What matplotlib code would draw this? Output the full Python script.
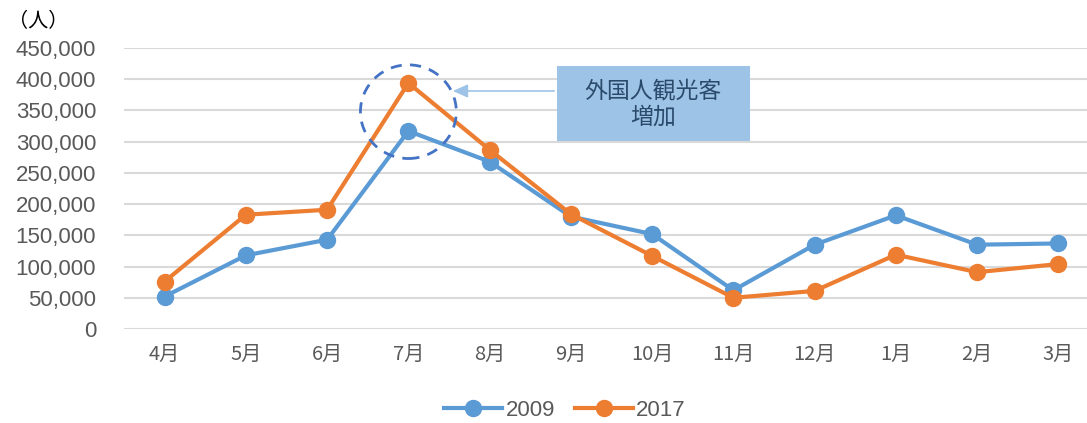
import matplotlib.pyplot as plt
from matplotlib.patches import Ellipse, Rectangle
from matplotlib.ticker import FuncFormatter

plt.rcParams['font.family'] = ['Noto Sans CJK JP', 'DejaVu Sans']

months = ['4月', '5月', '6月', '7月', '8月', '9月', '10月', '11月', '12月', '1月', '2月', '3月']
visitors_2009 = [52000, 118000, 143000, 317000, 268000, 180000, 152000, 62000, 135000, 182000, 135000, 137000]
visitors_2017 = [76000, 183000, 191000, 394000, 287000, 184000, 117000, 50000, 61000, 119000, 91000, 104000]
callout_text = '外国人観光客\n増加'

blue = '#5B9BD5'
orange = '#ED7D31'
grey = '#595959'

W, H = 1087, 423
fig = plt.figure(figsize=(W / 100, H / 100), dpi=100)
# axes placed in pixel terms: x from 124 to 1099, y (0) at 329, (450k) at 48
ax = fig.add_axes([124 / W, (H - 329) / H, (1099 - 124) / W, (329 - 48) / H])

x = list(range(len(months)))
ax.plot(x, visitors_2009, color=blue, lw=3, marker='o', ms=11.5, label='2009', zorder=3)
ax.plot(x, visitors_2017, color=orange, lw=3, marker='o', ms=11.5, label='2017', zorder=4)

ax.set_xlim(-0.5, len(months) - 0.5)
ax.set_ylim(0, 450000)
ax.set_yticks(range(0, 450001, 50000))
ax.yaxis.set_major_formatter(FuncFormatter(lambda v, p: f'{int(v):,}'))
ax.set_xticks(x)
ax.set_xticklabels(months)
ax.grid(axis='y', color='#D9D9D9', lw=1.5)
ax.set_axisbelow(True)
for s in ax.spines.values():
    s.set_visible(False)
ax.tick_params(axis='both', length=0, colors=grey)
ax.tick_params(axis='y', labelsize=16, pad=20)
ax.tick_params(axis='x', labelsize=14.5, pad=11)
for lab in ax.get_yticklabels():
    lab.set_family('Liberation Sans')

fig.text(8 / W, 1 - 22 / H, '（人）', fontsize=14.5, color='black', va='center', ha='left')

# dashed circle around the 7月 peak
peak = visitors_2017.index(max(visitors_2017))
ax.add_patch(Ellipse((peak, 348000), 1.18, 150000, fill=False, ls=(0, (4, 3)),
                     ec='#4472C4', lw=2, zorder=5))

# callout box + arrow
fig.add_artist(Rectangle((557 / W, 1 - 141 / H), (750 - 557) / W, (141 - 66) / H,
                         transform=fig.transFigure, fc='#9DC3E6', ec='none'))
fig.text(653 / W, 1 - 104 / H, callout_text, ha='center', va='center',
         fontsize=16.5, color='#2A4A6B', linespacing=1.15)
ax.annotate('', xy=(450 / W, 1 - 91 / H), xycoords='figure fraction',
            xytext=(557 / W, 1 - 91 / H), textcoords='figure fraction',
            arrowprops=dict(arrowstyle='-|>,head_length=0.9,head_width=0.4',
                            color='#9DC3E6', lw=1.2))

leg = fig.legend(loc='center', bbox_to_anchor=(565 / W, 1 - 410 / H), ncol=2,
                 frameon=False, handlelength=2.6, columnspacing=0.9,
                 handletextpad=0.15, prop={'family': 'Liberation Sans', 'size': 16})
for t in leg.get_texts():
    t.set_color(grey)

fig.savefig('out.png', dpi=100)
